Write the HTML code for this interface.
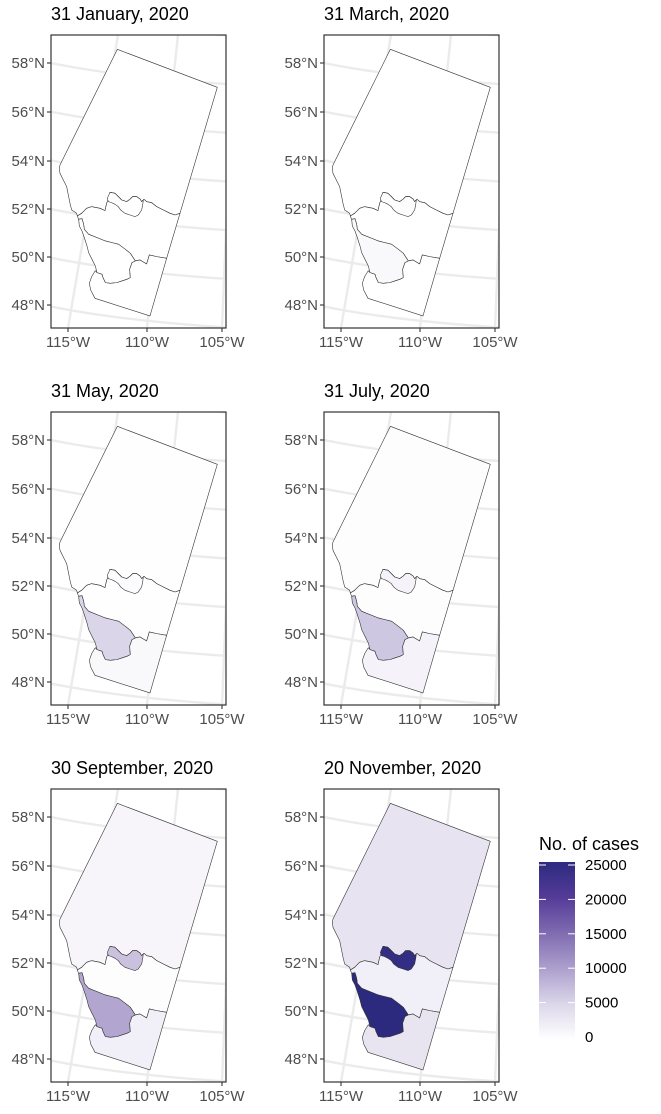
<!DOCTYPE html>
<html><head><meta charset="utf-8"><style>
html,body{margin:0;padding:0;background:#fff;overflow:hidden;width:661px;height:1114px;}
svg{display:block;font-family:"Liberation Sans",sans-serif;}
</style></head><body>
<svg id="chart" width="661" height="1114" viewBox="0 0 661 1114" xmlns="http://www.w3.org/2000/svg">
<defs>
<linearGradient id="lg" x1="0" y1="1" x2="0" y2="0">
<stop offset="0" stop-color="#ffffff"/><stop offset="0.2" stop-color="#dcd7ea"/><stop offset="0.4" stop-color="#ada0cd"/><stop offset="0.6" stop-color="#7f6cb1"/><stop offset="0.8" stop-color="#553b98"/><stop offset="1" stop-color="#2c2a7f"/>
</linearGradient>
<clipPath id="pc"><rect x="51" y="35" width="175" height="293"/></clipPath>
</defs>
<g id="panels"></g>
<g id="legend"></g>
</svg>
<script>
const titles = ["31 January, 2020","31 March, 2020","31 May, 2020","31 July, 2020","30 September, 2020","20 November, 2020"];
const zones = ["north","central","edmonton","calgary","south"];
const casesNorth    = [0, 30, 100, 200, 1200, 3500];
const casesCentral  = [0, 20, 100, 200, 300, 2000];
const casesEdmonton = [0, 200, 500, 1500, 7000, 24000];
const casesCalgary  = [0, 800, 5200, 6500, 9500, 25000];
const casesSouth    = [0, 50, 800, 1500, 2000, 3300];
const latTicks = ["58°N","56°N","54°N","52°N","50°N","48°N"];
const lonTicks = ["115°W","110°W","105°W"];
const legendTicks = [0,5000,10000,15000,20000,25000];

const NS="http://www.w3.org/2000/svg";
function mk(t,a,p){const e=document.createElementNS(NS,t);for(const k in a)e.setAttribute(k,a[k]);if(p)p.appendChild(e);return e;}
const stops=[[0,[255,255,255]],[5000,[220,215,234]],[10000,[173,160,205]],[15000,[127,108,177]],[20000,[85,59,152]],[25000,[44,42,127]]];
function color(v){v=Math.max(0,Math.min(25000,v));for(let i=1;i<stops.length;i++){if(v<=stops[i][0]){const a=stops[i-1],b=stops[i],t=(v-a[0])/(b[0]-a[0]);const c=a[1].map((x,j)=>Math.round(x+(b[1][j]-x)*t));return `rgb(${c})`;}}return "rgb(44,42,127)";}

const shp={
north:"352,148 652,262 540,640 525,645 510,640 490,630 470,620 455,608 440,605 432,598 425,605 420,597 410,590 398,590 390,598 380,605 365,600 355,590 345,580 330,577 328,590 320,610 315,632 300,625 275,620 260,625 245,640 232,648 230,640 215,630 210,610 205,585 200,560 190,540 180,520 178,505 180,495",
edmonton:"330,577 345,580 355,590 365,600 380,605 390,598 398,590 410,590 420,597 425,605 430,600 428,615 425,630 415,645 405,650 390,645 375,640 362,630 355,620 345,613 335,608 325,605 322,595",
central:"232,648 245,640 260,625 275,620 300,625 315,632 320,610 328,590 330,577 345,580 355,590 365,600 380,605 390,598 398,590 410,590 420,597 425,605 432,598 440,605 455,608 470,620 490,630 510,640 525,645 540,640 500,775 470,770 448,765 440,792 420,780 406,783 391,760 376,748 356,733 336,728 316,723 291,713 266,703 253,688 251,673 246,656 236,658",
calgary:"236,658 246,656 251,673 253,688 266,703 291,713 316,723 336,728 356,733 376,748 391,760 406,783 396,788 389,808 391,833 381,838 366,843 351,848 331,850 316,848 309,833 306,823 291,818 286,798 276,778 266,758 261,738 253,713 246,693 238,678",
south:"500,775 450,948 285,895 272,870 268,850 275,830 286,812 291,818 306,823 309,833 316,848 331,850 351,848 366,843 381,838 391,833 389,808 396,788 406,783 420,780 440,792 448,765 470,770"
};
const vals=[casesNorth,casesCentral,casesEdmonton,casesCalgary,casesSouth];
const latY=[63,112,161,209,257,305];
const lonX=[68,147,222], lonTop=[118,178,234];
const root=document.getElementById('panels');
for(let p=0;p<6;p++){
  const c=p%2,r=Math.floor(p/2);
  const g=mk('g',{transform:`translate(${c*273},${r*377})`},root);
  
  
  const t=mk('text',{x:51,y:20,'font-size':18,fill:'#000'},g);t.textContent=titles[p];
  
  
  mk('rect',{x:51,y:35,width:175,height:293,fill:'#fff'},g);
  const gg=mk('g',{'clip-path':'url(#pc)',stroke:'#ebebeb','stroke-width':2.4,fill:'none'},g);
  
  
  for(let k=-1;k<8;k++){const y=63+k*48.7;mk('path',{d:`M51,${y} Q120,${y+14} 226,${y+21}`},gg);}
  for(let k=0;k<3;k++){mk('line',{x1:lonX[k],y1:328,x2:lonTop[k],y2:35},gg);}
  const mg=mk('g',{transform:'scale(0.3333)',stroke:'#333','stroke-width':1.8,'stroke-linejoin':'round'},g);
  zones.forEach((z,i)=>{const e=mk('polygon',{points:shp[z],fill:color(vals[i][p])},mg);
    
    });
  mk('rect',{x:51,y:35,width:175,height:293,fill:'none',stroke:'#333','stroke-width':1.2},g);
  latTicks.forEach((l,i)=>{mk('line',{x1:47,x2:51,y1:latY[i],y2:latY[i],stroke:'#333','stroke-width':1.1},g);
    const e=mk('text',{x:45,y:latY[i]+5,'font-size':15,fill:'#4d4d4d','text-anchor':'end'},g);e.textContent=l;
    
    });
  lonTicks.forEach((l,i)=>{mk('line',{x1:lonX[i],x2:lonX[i],y1:328,y2:332,stroke:'#333','stroke-width':1.1},g);
    const e=mk('text',{x:lonX[i],y:347,'font-size':15,fill:'#4d4d4d','text-anchor':'middle'},g);e.textContent=l;
    
    });
}
const L=document.getElementById('legend');
const lt=mk('text',{x:539,y:850,'font-size':18,fill:'#000'},L);lt.textContent='No. of cases';


const ly=v=>1037-(v/25000)*172;
mk('rect',{x:539,y:ly(25000)-3,width:36,height:178,fill:'url(#lg)'},L);
legendTicks.forEach(v=>{const y=ly(v);
  if(v>0){mk('line',{x1:539,x2:546,y1:y,y2:y,stroke:'#fff','stroke-width':1},L);mk('line',{x1:568,x2:575,y1:y,y2:y,stroke:'#fff','stroke-width':1},L);}
  const e=mk('text',{x:585,y:y+5,'font-size':15,fill:'#000'},L);e.textContent=v;
  
  });
</script>
</body></html>
